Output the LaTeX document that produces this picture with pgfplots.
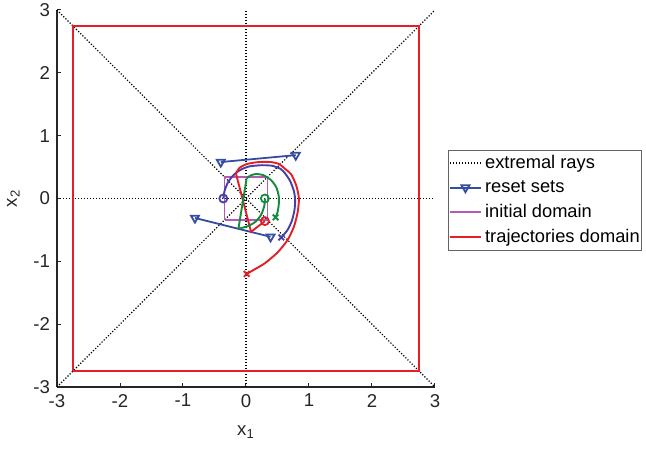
\documentclass[border=0pt]{standalone}
\usepackage{fontspec}
\setmainfont{Liberation Sans}
\usepackage{pgfplots}
\pgfplotsset{compat=1.18}
\definecolor{axisgray}{RGB}{38,38,38}
\definecolor{legendgray}{RGB}{100,100,100}
\definecolor{resetblue}{RGB}{52,76,164}
\definecolor{trajblue}{RGB}{72,62,168}
\definecolor{trajgreen}{RGB}{20,140,60}
\definecolor{trajred}{RGB}{226,30,38}
\definecolor{initmag}{RGB}{180,90,180}
\definecolor{boxred}{RGB}{230,30,40}
\newcommand{\ff}{\fontsize{9.3}{11}\selectfont}
\newcommand{\lf}{\fontsize{9.15}{11}\selectfont}
\begin{document}
\begin{tikzpicture}
\path[use as bounding box] (-28.5pt,-31pt) rectangle (294.5pt,193.5pt);
\begin{axis}[
  at={(0,0)}, anchor=south west,
  scale only axis, width=189pt, height=188.5pt,
  xmin=-3, xmax=3, ymin=-3, ymax=3,
  axis lines=left, axis line style={-, draw=axisgray, line width=0.6pt},
  xtick={-3,...,3}, ytick={-3,...,3},
  tick align=inside, major tick length=2pt,
  tick style={axisgray, line width=0.5pt},
  ticklabel style={font=\ff, text=axisgray},
  /pgf/number format/assume math mode=true,
  xlabel={x\textsubscript{1}}, ylabel={x\textsubscript{2}},
  xlabel style={font=\ff, text=axisgray, yshift=-2.5pt},
  ylabel style={font=\ff, text=axisgray},
  legend style={at={(1.034,0.629)}, anchor=north west, draw=legendgray,
    line width=0.5pt, font=\lf, inner sep=0.3pt, row sep=0.5pt,
    nodes={inner xsep=0.6pt},
    cells={anchor=west},
    /tikz/every odd column/.append style={column sep=1pt},
    /tikz/every even column/.append style={column sep=0pt}},
  legend image code/.code={\draw[mark repeat=2,mark phase=2,#1] plot coordinates {(0pt,0pt) (7.75pt,0pt) (15.5pt,0pt)};},
  clip=false,
]
\addlegendimage{black, line width=0.6pt, dash pattern=on 0.6pt off 0.9pt}
\addlegendentry{extremal rays}
\addlegendimage{resetblue, line width=0.9pt, mark=triangle, mark size=2.3pt, mark options={solid, rotate=180}}
\addlegendentry{reset sets}
\addlegendimage{initmag, line width=0.9pt}
\addlegendentry{initial domain}
\addlegendimage{boxred, line width=1pt}
\addlegendentry{trajectories domain}

\addplot[black, line width=0.6pt, dash pattern=on 0.6pt off 0.9pt, forget plot] coordinates {(-3,-3) (3,3)};
\addplot[black, line width=0.6pt, dash pattern=on 0.6pt off 0.9pt, forget plot] coordinates {(-3,3) (3,-3)};
\addplot[black, line width=0.6pt, dash pattern=on 0.6pt off 0.9pt, forget plot] coordinates {(0,-3) (0,3)};
\addplot[black, line width=0.6pt, dash pattern=on 0.6pt off 0.9pt, forget plot] coordinates {(-3,0) (3,0)};

\addplot[resetblue, line width=0.9pt, mark=triangle, mark size=2.3pt, mark options={solid, rotate=180}, forget plot] coordinates {(-0.40,0.58) (0.79,0.69)};
\addplot[resetblue, line width=0.9pt, mark=triangle, mark size=2.3pt, mark options={solid, rotate=180}, forget plot] coordinates {(-0.81,-0.31) (0.39,-0.61)};

\addplot[initmag, line width=0.9pt, forget plot] coordinates {(-0.34,-0.34) (0.34,-0.34) (0.34,0.34) (-0.34,0.34) (-0.34,-0.34)};

\addplot[boxred, line width=1pt, forget plot] coordinates {(-2.75,-2.75) (2.75,-2.75) (2.75,2.75) (-2.75,2.75) (-2.75,-2.75)};

% trajectories
\addplot[trajblue, line width=0.95pt, smooth, tension=0.4, forget plot] coordinates {
(-0.36,0) (-0.34,0.12) (-0.29,0.25) (-0.21,0.36) (-0.10,0.45) (0.05,0.51) (0.25,0.53) (0.42,0.52) (0.55,0.47) (0.62,0.40) (0.70,0.28) (0.76,0.12) (0.78,-0.02) (0.77,-0.18) (0.73,-0.35) (0.66,-0.50) (0.56,-0.62)};
\addplot[trajblue, only marks, mark=o, mark size=2pt, line width=0.9pt, forget plot] coordinates {(-0.36,0)};
\addplot[trajblue, only marks, mark=x, mark size=2pt, line width=0.9pt, forget plot] coordinates {(0.56,-0.62)};

\addplot[trajred, line width=0.95pt, forget plot] coordinates {(0.30,-0.36) (0.08,-0.53) (-0.16,0.40)};
\addplot[trajred, line width=0.95pt, smooth, tension=0.4, forget plot] coordinates {
(-0.16,0.40) (-0.10,0.49) (0.02,0.55) (0.20,0.58) (0.40,0.58) (0.52,0.55) (0.60,0.49) (0.72,0.38) (0.80,0.20) (0.84,0.00) (0.82,-0.22) (0.76,-0.45) (0.66,-0.66) (0.50,-0.86) (0.30,-1.03) (0.15,-1.12) (0.01,-1.20)};
\addplot[trajred, only marks, mark=o, mark size=2pt, line width=0.9pt, forget plot] coordinates {(0.30,-0.36)};
\addplot[trajred, only marks, mark=x, mark size=2pt, line width=0.9pt, forget plot] coordinates {(0.01,-1.20)};

\addplot[trajgreen, line width=0.95pt, smooth, tension=0.4, forget plot] coordinates {
(0.30,0) (0.29,-0.12) (0.24,-0.26) (0.15,-0.37) (0.03,-0.44) (-0.12,-0.48)};
\addplot[trajgreen, line width=0.95pt, forget plot] coordinates {(-0.12,-0.48) (0.01,0.32)};
\addplot[trajgreen, line width=0.95pt, smooth, tension=0.4, forget plot] coordinates {
(0.01,0.32) (0.08,0.37) (0.16,0.39) (0.28,0.37) (0.40,0.29) (0.48,0.18) (0.52,0.04) (0.52,-0.10) (0.50,-0.22) (0.47,-0.30)};
\addplot[trajgreen, only marks, mark=o, mark size=2pt, line width=0.9pt, forget plot] coordinates {(0.30,0)};
\addplot[trajgreen, only marks, mark=x, mark size=2pt, line width=0.9pt, forget plot] coordinates {(0.47,-0.30)};
\end{axis}
\end{tikzpicture}
\end{document}
